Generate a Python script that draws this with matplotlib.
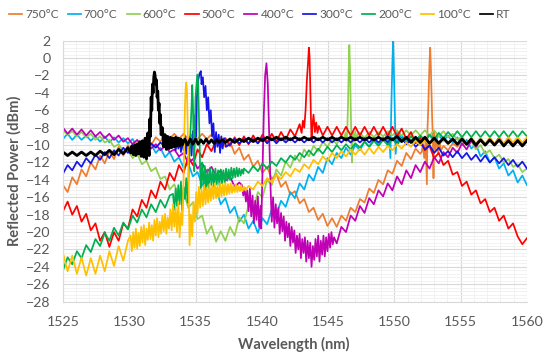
import numpy as np
import matplotlib
matplotlib.use("Agg")
import matplotlib.pyplot as plt
from matplotlib.ticker import MultipleLocator
from matplotlib.lines import Line2D

# ---------------- data ----------------
wavelength_nm = np.linspace(1525, 1560, 101)   # common sampling grid, 0.35 nm step

labels = ["750°C", "700°C", "600°C", "500°C", "400°C", "300°C", "200°C", "100°C", "RT"]
colors = ["#ED7D31", "#00B0F0", "#92D050", "#FF0000", "#C000B4", "#1414E6", "#00B050", "#FFC000", "#000000"]

p750 = [-14.6, -15.4, -13.7, -14.5, -12.8, -13.6, -12.0, -12.8, -11.2, -12.1,
        -10.7, -11.6, -10.2, -11.2, -10.0, -10.8, -9.7, -10.5, -9.4, -10.0,
        -9.1, -9.6, -8.8, -9.3, -8.7, -9.3, -8.7, -9.3, -8.7, -9.3,
        -8.7, -9.3, -8.8, -9.6, -9.1, -10.2, -9.6, -11.0, -10.3, -11.7,
        -11.1, -12.5, -11.8, -13.2, -12.5, -13.9, -13.3, -14.8, -14.2, -15.7,
        -15.3, -16.7, -16.2, -17.7, -17.2, -18.6, -17.9, -19.3, -18.4, -19.4,
        -18.1, -18.7, -17.2, -17.7, -16.2, -16.6, -15.0, -15.5, -14.0, -14.5,
        -12.9, -13.3, -11.8, -12.4, -10.9, -11.6, -10.4, -11.0, -10.5, -10.5,
        -10.5, -10.5, -10.1, -10.6, -9.8, -10.2, -9.5, -10.0, -9.3, -9.9,
        -9.3, -9.9, -9.3, -9.9, -9.3, -9.9, -9.3, -9.9, -9.3, -9.9, -9.4]
seg750 = [(1552.05, -10.8), (1552.15, -10.0), (1552.25, -11.5), (1552.35, -9.5), (1552.45, -14.5),
          (1552.50, -8.0), (1552.55, -6.0), (1552.60, -3.0), (1552.65, -0.5), (1552.70, 1.2),
          (1552.75, -1.0), (1552.80, -4.0), (1552.85, -7.0), (1552.90, -9.0), (1552.95, -13.8),
          (1553.00, -8.5), (1553.10, -10.5), (1553.20, -9.0), (1553.30, -11.0), (1553.40, -9.5),
          (1553.50, -10.6)]

p700 = [-9.3, -8.7, -9.4, -8.8, -9.4, -8.9, -9.5, -9.0, -9.6, -9.0,
        -9.7, -9.1, -9.7, -9.2, -9.8, -9.3, -10.2, -9.5, -10.5, -9.9,
        -10.9, -10.3, -11.4, -10.8, -11.9, -11.4, -12.6, -12.1, -13.6, -13.1,
        -14.6, -14.1, -15.7, -15.0, -16.8, -16.1, -17.8, -17.1, -18.8, -18.0,
        -19.6, -18.7, -20.1, -18.4, -19.1, -17.4, -18.0, -16.4, -17.1, -15.4,
        -16.1, -14.4, -15.1, -13.4, -14.1, -12.5, -13.2, -11.5, -12.2, -10.9,
        -11.5, -10.3, -11.1, -10.0, -10.6, -9.6, -10.2, -9.3, -10.0, -9.2,
        -9.3, -9.3, -9.3, -9.3, -9.5, -8.9, -9.5, -8.9, -9.5, -8.9,
        -9.5, -8.9, -9.5, -8.9, -9.7, -9.1, -10.0, -9.4, -10.4, -9.9,
        -11.3, -10.7, -12.0, -11.4, -12.7, -12.1, -13.5, -12.9, -14.3, -13.5, -14.6]
seg700 = [(1549.30, -9.4), (1549.40, -8.8), (1549.50, -10.0), (1549.60, -8.5), (1549.70, -11.5),
          (1549.75, -7.0), (1549.80, -3.5), (1549.85, -0.5), (1549.90, 1.9), (1549.95, -0.8),
          (1550.00, -4.0), (1550.05, -7.5), (1550.10, -11.0), (1550.20, -8.5), (1550.30, -9.8),
          (1550.40, -8.6), (1550.50, -9.6), (1550.60, -9.0)]

p600 = [-8.3, -8.8, -8.4, -9.0, -8.5, -9.1, -8.7, -9.4, -9.0, -9.7,
        -9.4, -10.2, -9.9, -10.7, -10.5, -11.5, -11.0, -12.2, -11.8, -13.0,
        -12.6, -13.9, -13.6, -15.1, -14.5, -16.0, -15.4, -17.2, -16.6, -18.5,
        -18.1, -20.2, -19.3, -21.1, -19.9, -21.0, -19.4, -20.4, -18.3, -19.0,
        -16.9, -17.5, -15.4, -16.0, -14.0, -14.6, -12.8, -13.5, -11.9, -12.6,
        -11.2, -11.9, -10.5, -11.3, -10.1, -10.7, -9.6, -10.2, -9.3, -9.9,
        -8.9, -9.0, -9.0, -9.0, -8.6, -9.2, -8.5, -9.1, -8.5, -9.0,
        -8.4, -8.9, -8.3, -8.9, -8.3, -8.9, -8.3, -8.9, -8.3, -8.9,
        -8.3, -9.0, -8.4, -9.1, -8.7, -9.4, -9.0, -9.9, -9.5, -10.5,
        -10.0, -11.0, -10.6, -11.5, -11.1, -12.0, -11.6, -12.5, -12.2, -13.1, -12.7]
seg600 = [(1546.20, -9.4), (1546.30, -8.6), (1546.40, -9.6), (1546.45, -8.0), (1546.50, -5.5),
          (1546.55, -1.5), (1546.60, 1.5), (1546.65, -1.0), (1546.70, -5.0), (1546.75, -9.0),
          (1546.80, -12.0), (1546.85, -8.5), (1546.95, -9.6), (1547.05, -8.4), (1547.15, -9.4),
          (1547.25, -8.7)]

p500 = [-17.6, -16.5, -18.0, -17.0, -18.8, -17.9, -19.8, -19.0, -21.0, -20.0,
        -21.7, -20.0, -21.0, -19.0, -19.6, -17.4, -18.2, -16.3, -17.2, -15.2,
        -16.1, -14.2, -15.1, -13.2, -14.1, -12.3, -13.2, -11.3, -12.3, -10.5,
        -11.4, -9.9, -10.7, -9.5, -10.3, -9.2, -10.1, -9.1, -10.0, -9.0,
        -9.9, -8.9, -9.8, -8.8, -9.7, -8.7, -9.6, -8.5, -9.4, -8.2,
        -9.0, -8.3, -8.3, -8.3, -8.3, -8.3, -8.9, -7.9, -8.9, -7.9,
        -8.9, -7.9, -8.9, -7.9, -8.9, -7.9, -8.9, -7.9, -8.9, -7.9,
        -8.9, -7.9, -9.0, -8.1, -9.3, -8.5, -9.8, -9.1, -10.6, -10.1,
        -11.5, -10.9, -12.3, -11.8, -13.4, -13.1, -14.7, -14.2, -15.7, -15.2,
        -16.7, -16.2, -17.7, -17.2, -18.7, -18.1, -19.6, -19.0, -20.5, -21.4, -20.7]
seg500 = [(1542.70, -8.2), (1542.85, -7.6), (1543.00, -8.6), (1543.10, -7.2), (1543.20, -8.0),
          (1543.30, -6.0), (1543.40, -2.5), (1543.50, -0.2), (1543.55, 1.2), (1543.60, 0.2),
          (1543.65, -3.0), (1543.70, -6.5), (1543.75, -9.5), (1543.80, -8.0), (1543.90, -6.5),
          (1544.00, -8.5), (1544.10, -7.4), (1544.20, -8.6), (1544.30, -7.8)]

p400 = [-8.0, -8.7, -8.1, -8.8, -8.2, -8.9, -8.3, -9.0, -8.5, -9.2,
        -8.7, -9.4, -8.9, -9.6, -9.2, -9.9, -9.4, -10.2, -9.7, -10.4,
        -9.9, -10.6, -10.1, -10.8, -10.5, -11.3, -10.9, -12.1, -11.6, -12.7,
        -12.1, -13.1, -12.5, -13.5, -12.9, -14.1, -13.6, -14.8, -14.3, -15.5,
        -17.0, -17.0, -18.0, -19.0, -19.0, -19.0, -20.0, -21.0, -21.0, -21.0,
        -22.0, -22.0, -22.0, -22.0, -22.0, -22.0, -22.0, -22.0, -21.0, -21.3,
        -19.4, -20.0, -18.1, -18.7, -17.0, -17.8, -16.1, -16.8, -15.2, -15.9,
        -14.4, -15.2, -13.6, -14.5, -12.9, -13.8, -12.3, -13.1, -11.9, -12.7,
        -11.4, -12.1, -10.8, -11.4, -10.3, -10.9, -9.8, -10.5, -9.5, -10.2,
        -9.3, -10.0, -9.2, -9.9, -9.1, -9.9, -9.1, -9.9, -9.2, -10.0, -9.3]
seg400 = [(1538.50, -14.6), (1538.60, -15.8), (1538.70, -14.9), (1538.80, -16.5), (1538.90, -15.2),
          (1539.00, -17.6), (1539.10, -15.0), (1539.20, -18.2), (1539.30, -15.8), (1539.40, -19.0),
          (1539.50, -16.4), (1539.60, -18.6), (1539.70, -15.9), (1539.80, -19.4), (1539.90, -17.0),
          (1539.95, -19.6), (1540.05, -13.0), (1540.15, -6.5), (1540.25, -2.0), (1540.35, -0.6),
          (1540.45, -3.0), (1540.55, -8.5), (1540.65, -14.5), (1540.75, -18.8), (1540.85, -16.0),
          (1540.95, -19.5), (1541.05, -16.8), (1541.15, -19.0), (1541.25, -17.2), (1541.35, -20.2),
          (1541.45, -17.8), (1541.55, -19.9), (1541.65, -18.2), (1541.75, -21.0), (1541.85, -18.8),
          (1541.95, -20.6), (1542.05, -19.0), (1542.15, -21.6), (1542.25, -19.4), (1542.35, -21.2),
          (1542.45, -19.8), (1542.55, -22.4), (1542.65, -20.4), (1542.75, -22.0), (1542.85, -20.2),
          (1542.95, -23.0), (1543.05, -20.8), (1543.15, -22.4), (1543.25, -20.6), (1543.35, -23.4),
          (1543.45, -21.0), (1543.55, -23.0), (1543.65, -21.2), (1543.75, -24.0), (1543.85, -21.6),
          (1543.95, -23.2), (1544.05, -20.8), (1544.15, -22.8), (1544.25, -20.4), (1544.35, -23.4),
          (1544.45, -21.0), (1544.55, -22.6), (1544.65, -20.4), (1544.75, -22.8), (1544.85, -20.6),
          (1544.95, -22.2), (1545.05, -20.2), (1545.15, -21.8), (1545.25, -20.0), (1545.35, -21.4),
          (1545.45, -20.6)]

p300 = [-13.3, -12.3, -12.9, -11.9, -12.5, -11.5, -12.1, -11.1, -11.7, -10.8,
        -11.5, -10.6, -11.2, -10.3, -10.9, -10.0, -10.6, -9.9, -10.4, -9.8,
        -10.3, -9.7, -10.2, -9.6, -10.0, -10.0, -10.0, -10.0, -10.0, -10.0,
        -10.0, -10.0, -10.0, -10.0, -10.0, -10.0, -9.9, -9.3, -9.8, -9.3,
        -9.8, -9.3, -9.8, -9.2, -9.8, -9.2, -9.8, -9.2, -9.7, -9.2,
        -9.7, -9.2, -9.7, -9.2, -9.7, -9.2, -9.7, -9.2, -9.7, -9.2,
        -9.7, -9.2, -9.7, -9.2, -9.7, -9.2, -9.7, -9.2, -9.7, -9.2,
        -9.7, -9.2, -9.8, -9.2, -9.9, -9.4, -10.2, -9.7, -10.5, -10.0,
        -10.9, -10.3, -11.2, -10.7, -11.4, -10.7, -11.5, -10.9, -11.7, -11.1,
        -11.9, -11.2, -12.0, -11.4, -12.1, -11.5, -12.3, -11.7, -12.5, -11.9, -12.7]
seg300 = [(1533.30, -10.2), (1533.40, -9.4), (1533.50, -10.6), (1533.60, -9.6), (1533.70, -10.4),
          (1533.80, -9.2), (1533.90, -10.8), (1534.00, -9.4), (1534.10, -10.6), (1534.20, -9.0),
          (1534.30, -11.0), (1534.40, -9.3), (1534.50, -10.8), (1534.60, -9.0), (1534.70, -11.2),
          (1534.80, -8.4), (1534.90, -10.5), (1535.00, -6.5), (1535.05, -9.0), (1535.10, -4.5),
          (1535.20, -2.5), (1535.30, -1.8), (1535.40, -1.5), (1535.45, -3.0), (1535.55, -2.2),
          (1535.65, -4.5), (1535.75, -3.2), (1535.85, -6.0), (1535.95, -4.5), (1536.05, -7.5),
          (1536.15, -6.0), (1536.25, -9.0), (1536.35, -7.5), (1536.45, -10.8), (1536.55, -8.5),
          (1536.65, -10.2), (1536.75, -8.8), (1536.85, -10.9), (1536.95, -9.0), (1537.05, -10.4),
          (1537.15, -9.2), (1537.30, -10.2)]

p200 = [-24.4, -22.9, -23.7, -22.2, -23.0, -21.5, -22.3, -20.8, -21.6, -20.1,
        -21.0, -19.5, -20.4, -18.9, -19.7, -18.1, -18.9, -17.4, -18.3, -16.8,
        -17.7, -16.3, -17.2, -15.8, -15.0, -15.0, -14.0, -14.0, -14.0, -14.0,
        -14.0, -14.0, -14.0, -14.0, -14.0, -14.0, -13.5, -13.5, -13.2, -12.7,
        -13.2, -12.4, -13.0, -12.1, -12.7, -11.9, -12.4, -11.5, -12.0, -11.2,
        -11.7, -10.9, -11.4, -10.6, -11.2, -10.4, -11.0, -10.2, -10.8, -10.0,
        -10.6, -9.9, -10.5, -9.8, -10.3, -9.6, -10.2, -9.5, -10.1, -9.4,
        -10.0, -9.3, -9.9, -9.2, -9.7, -9.0, -9.6, -8.9, -9.5, -8.8,
        -9.3, -8.6, -9.2, -8.5, -9.1, -8.4, -9.1, -8.4, -9.1, -8.4,
        -9.1, -8.4, -9.1, -8.4, -9.1, -8.4, -9.1, -8.4, -9.1, -8.4, -9.0]
seg200 = [(1533.30, -15.6), (1533.40, -17.4), (1533.50, -15.0), (1533.60, -17.0), (1533.70, -14.6),
          (1533.80, -16.8), (1533.90, -14.2), (1534.00, -17.6), (1534.10, -14.8), (1534.20, -16.2),
          (1534.30, -13.8), (1534.40, -16.6), (1534.50, -12.5), (1534.60, -9.0), (1534.70, -5.5),
          (1534.75, -3.1), (1534.80, -5.0), (1534.85, -9.5), (1534.90, -13.0), (1534.95, -8.0),
          (1535.00, -4.5), (1535.10, -2.5), (1535.15, -1.9), (1535.20, -3.0), (1535.25, -6.0),
          (1535.30, -9.5), (1535.35, -13.0), (1535.40, -15.0), (1535.50, -12.0), (1535.60, -14.8),
          (1535.70, -12.4), (1535.80, -15.2), (1535.90, -12.8), (1536.00, -14.9), (1536.10, -12.6),
          (1536.20, -14.6), (1536.30, -12.9), (1536.40, -14.8), (1536.50, -12.7), (1536.60, -14.5),
          (1536.70, -12.9), (1536.80, -14.6), (1536.90, -12.8), (1537.00, -14.4), (1537.10, -12.9),
          (1537.20, -14.3), (1537.30, -12.7), (1537.40, -14.1), (1537.50, -12.8), (1537.60, -14.0),
          (1537.70, -12.6), (1537.80, -13.8), (1537.90, -12.7), (1538.00, -13.7), (1538.10, -12.6),
          (1538.20, -13.6), (1538.30, -12.7), (1538.40, -13.5), (1538.50, -12.8), (1538.60, -13.3)]

p100 = [-22.4, -24.5, -22.7, -24.8, -22.9, -25.0, -23.0, -24.8, -22.7, -24.5,
        -22.2, -23.9, -21.6, -23.3, -21.0, -21.0, -20.0, -20.0, -19.0, -19.0,
        -19.0, -18.5, -18.5, -18.0, -18.0, -17.0, -15.0, -15.0, -15.0, -15.0,
        -15.5, -15.5, -15.5, -15.5, -15.3, -15.3, -15.1, -15.1, -15.0, -15.0,
        -14.7, -15.1, -14.2, -14.7, -13.8, -14.3, -13.4, -13.9, -13.1, -13.6,
        -12.7, -13.1, -12.2, -12.7, -11.7, -12.2, -11.3, -11.8, -10.9, -11.5,
        -10.7, -11.3, -10.5, -11.1, -10.4, -11.1, -10.3, -11.0, -10.2, -10.8,
        -10.1, -10.6, -9.9, -10.4, -9.7, -10.2, -9.5, -10.0, -9.4, -9.9,
        -9.3, -9.9, -9.3, -9.9, -9.3, -9.9, -9.2, -9.8, -9.2, -9.8,
        -9.2, -9.8, -9.2, -9.8, -9.2, -9.8, -9.1, -9.7, -9.1, -9.7, -9.1]
seg100 = [(1530.10, -20.4), (1530.20, -22.2), (1530.30, -20.0), (1530.40, -21.8), (1530.50, -19.6),
          (1530.60, -21.9), (1530.70, -20.1), (1530.80, -21.6), (1530.90, -19.4), (1531.00, -21.2),
          (1531.10, -19.2), (1531.20, -21.5), (1531.30, -19.6), (1531.40, -20.9), (1531.50, -18.9),
          (1531.60, -20.8), (1531.70, -19.2), (1531.80, -21.0), (1531.90, -18.6), (1532.00, -20.4),
          (1532.10, -18.4), (1532.20, -20.6), (1532.30, -18.8), (1532.40, -20.2), (1532.50, -18.1),
          (1532.60, -19.9), (1532.70, -17.9), (1532.80, -20.2), (1532.90, -18.3), (1533.00, -19.6),
          (1533.10, -17.4), (1533.20, -19.8), (1533.30, -16.8), (1533.40, -19.4), (1533.50, -17.2),
          (1533.60, -20.0), (1533.70, -16.5), (1533.80, -20.6), (1533.90, -17.8), (1534.00, -19.2),
          (1534.10, -14.0), (1534.15, -9.0), (1534.20, -5.5), (1534.25, -3.5), (1534.30, -2.8),
          (1534.35, -3.6), (1534.40, -7.0), (1534.45, -12.0), (1534.50, -17.5), (1534.55, -21.5),
          (1534.65, -18.0), (1534.75, -20.5), (1534.85, -16.5), (1534.95, -18.8), (1535.05, -15.4),
          (1535.15, -17.9), (1535.25, -14.8), (1535.35, -17.2), (1535.45, -15.0), (1535.55, -17.0),
          (1535.65, -14.6), (1535.75, -16.8), (1535.85, -14.9), (1535.95, -16.6), (1536.05, -14.5),
          (1536.15, -16.4), (1536.25, -14.7), (1536.35, -16.2), (1536.45, -14.4), (1536.55, -16.1),
          (1536.65, -14.6), (1536.75, -16.0), (1536.85, -14.4), (1536.95, -15.9), (1537.05, -14.5),
          (1537.15, -15.8), (1537.25, -14.3), (1537.35, -15.7), (1537.45, -14.5), (1537.55, -15.6),
          (1537.65, -14.4), (1537.75, -15.5), (1537.85, -14.6), (1537.95, -15.4), (1538.05, -14.5),
          (1538.15, -15.4), (1538.25, -14.7), (1538.35, -15.3), (1538.45, -14.6), (1538.55, -15.3),
          (1538.65, -14.8), (1538.75, -15.2)]

pRT = [-10.8, -11.2, -10.8, -11.2, -10.8, -11.2, -10.8, -11.2, -10.7, -11.1,
       -10.6, -11.1, -10.5, -11.0, -10.3, -10.5, -10.5, -10.5, -10.0, -10.0,
       -9.5, -9.5, -9.5, -9.5, -9.5, -9.5, -9.5, -9.5, -9.5, -9.5,
       -9.5, -9.5, -9.5, -9.5, -9.5, -9.7, -9.3, -9.7, -9.3, -9.6,
       -9.2, -9.6, -9.2, -9.5, -9.1, -9.4, -9.1, -9.4, -9.1, -9.4,
       -9.1, -9.4, -9.1, -9.4, -9.1, -9.4, -9.1, -9.4, -9.1, -9.4,
       -9.1, -9.4, -9.1, -9.4, -9.1, -9.4, -9.1, -9.4, -9.1, -9.4,
       -9.1, -9.4, -9.0, -9.6, -9.1, -9.7, -9.1, -9.7, -9.1, -9.8,
       -9.2, -9.8, -9.2, -9.8, -9.3, -9.9, -9.3, -9.9, -9.3, -10.0,
       -9.4, -10.0, -9.4, -10.0, -9.4, -10.1, -9.5, -10.1, -9.5, -10.1, -9.5]
segRT = [(1530.10, -10.9), (1530.20, -10.1), (1530.30, -11.1), (1530.40, -10.0), (1530.50, -11.2),
         (1530.60, -9.9), (1530.70, -11.0), (1530.80, -9.6), (1530.90, -11.3), (1531.00, -9.5),
         (1531.10, -11.4), (1531.20, -9.2), (1531.30, -11.6), (1531.40, -8.6), (1531.50, -11.2),
         (1531.55, -7.0), (1531.60, -9.0), (1531.65, -4.5), (1531.70, -6.0), (1531.75, -3.0),
         (1531.80, -4.0), (1531.85, -2.2), (1531.90, -1.6), (1531.95, -2.0), (1532.00, -3.0),
         (1532.05, -2.5), (1532.10, -4.5), (1532.15, -3.8), (1532.20, -6.0), (1532.25, -5.2),
         (1532.30, -7.5), (1532.35, -6.5), (1532.40, -8.8), (1532.50, -8.0), (1532.60, -10.2),
         (1532.70, -8.8), (1532.80, -10.5), (1532.90, -9.0), (1533.00, -10.4), (1533.10, -9.1),
         (1533.20, -10.3), (1533.30, -9.2), (1533.40, -10.2), (1533.50, -9.1), (1533.60, -10.1),
         (1533.70, -9.2), (1533.80, -10.1), (1533.90, -9.3), (1534.00, -10.0), (1534.20, -9.3),
         (1534.40, -10.0), (1534.60, -9.3), (1534.80, -9.9), (1535.00, -9.3), (1535.20, -9.9),
         (1535.40, -9.4), (1535.60, -9.8), (1535.80, -9.3), (1536.00, -9.8), (1536.20, -9.4),
         (1536.40, -9.8), (1536.60, -9.4), (1536.80, -9.7), (1537.00, -9.4)]

series = [(p750, seg750), (p700, seg700), (p600, seg600), (p500, seg500), (p400, seg400),
          (p300, seg300), (p200, seg200), (p100, seg100), (pRT, segRT)]


def merge(base, seg):
    base = np.asarray(base, float)
    sw = np.array([s[0] for s in seg])
    sd = np.array([s[1] for s in seg])
    keep = (wavelength_nm < sw.min()) | (wavelength_nm > sw.max())
    x = np.concatenate([wavelength_nm[keep], sw])
    y = np.concatenate([base[keep], sd])
    o = np.argsort(x)
    return x[o], y[o]


# ---------------- figure ----------------
plt.rcParams['font.family'] = ['Lato', 'DejaVu Sans']
fig = plt.figure(figsize=(5.5, 3.61), dpi=100)
ax = fig.add_axes([0.1145, 0.1643, 0.8436, 0.7230])

for (base, seg), lab, col in zip(series, labels, colors):
    x, y = merge(base, seg)
    lw = 2.0 if lab == "RT" else 1.25
    ax.plot(x, y, color=col, lw=lw, label=lab, solid_joinstyle='round')

ax.set_xlim(1525, 1560)
ax.set_ylim(-28, 2)
ax.set_xticks(np.arange(1525, 1561, 5))
ax.set_yticks(np.arange(-28, 3, 2))
ax.xaxis.set_minor_locator(MultipleLocator(1))
ax.yaxis.set_minor_locator(MultipleLocator(0.4))
ax.grid(which='major', color='#D9D9D9', lw=0.8)
ax.grid(which='minor', color='#F0F0F0', lw=0.6)
ax.set_axisbelow(True)
for s in ['top', 'right']:
    ax.spines[s].set_visible(False)
for s in ['left', 'bottom']:
    ax.spines[s].set_color('#D9D9D9')
    ax.spines[s].set_linewidth(0.8)
ax.tick_params(which='both', length=0)
ax.tick_params(axis='x', labelsize=10.2, labelcolor='#595959', pad=10)
ax.tick_params(axis='y', labelsize=10.2, labelcolor='#595959', pad=9)

ax.set_xlabel('Wavelength (nm)', fontsize=10.5, fontweight='bold', color='#595959')
ax.xaxis.set_label_coords(0.498, -0.162)
ax.xaxis.label.set_va('center')
ax.set_ylabel('Reflected Power (dBm)', fontsize=10.5, fontweight='bold', color='#595959')
ax.yaxis.set_label_coords(-0.1056, 0.5)
ax.yaxis.label.set_va('center')

legend_handles = [Line2D([0], [0], color=c, lw=1.25) for c in colors]
fig.legend(legend_handles, labels, loc='center', bbox_to_anchor=(0.472, 1 - 15 / 361), ncol=9,
           frameon=False, fontsize=8.6, handlelength=1.1, handletextpad=0.25,
           columnspacing=0.75, labelcolor='#595959')

fig.savefig('out.png', dpi=100)
